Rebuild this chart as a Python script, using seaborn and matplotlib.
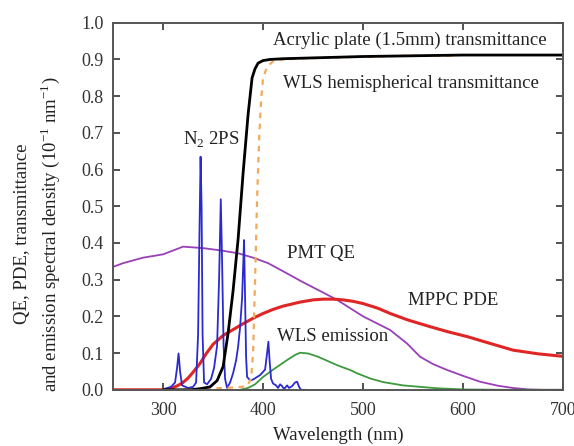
import matplotlib
matplotlib.use("Agg")
import matplotlib.pyplot as plt
import seaborn as sns

# ---- data ----
acrylic_wl = [300, 327, 337, 347, 354, 360, 365, 370, 375, 380, 385, 389, 392, 395, 400, 407, 420, 500, 600, 700]
acrylic_t = [0.0, 0.0, 0.003, 0.008, 0.025, 0.063, 0.154, 0.27, 0.41, 0.59, 0.75, 0.85, 0.875, 0.89, 0.897, 0.90, 0.902, 0.908, 0.912, 0.912]

wls_t_wl = [320, 340, 360, 375, 384, 388, 390, 392, 394, 396, 398, 400, 404, 410, 420, 440, 480, 540, 590]
wls_t = [0.0, 0.003, 0.005, 0.007, 0.01, 0.03, 0.10, 0.30, 0.52, 0.68, 0.79, 0.85, 0.88, 0.895, 0.90, 0.903, 0.906, 0.91, 0.91]

pmt_wl = [250, 260, 280, 300, 320, 340, 357, 375, 390, 405, 424, 440, 460, 474, 500, 527, 544, 557, 570, 584, 600, 617, 635, 650, 665, 680, 700]
pmt_qe = [0.335, 0.345, 0.36, 0.369, 0.39, 0.386, 0.38, 0.372, 0.36, 0.345, 0.317, 0.293, 0.265, 0.245, 0.2, 0.163, 0.126, 0.09, 0.07, 0.054, 0.038, 0.022, 0.011, 0.005, 0.001, 0.0, 0.0]

mppc_wl = [250, 300, 305, 310, 315, 320, 325, 330, 337, 343, 350, 360, 370, 380, 390, 400, 410, 420, 437, 450, 460, 470, 480, 490, 500, 515, 527, 545, 567, 585, 604, 625, 650, 675, 697, 700]
mppc_pde = [0.0, 0.0, 0.002, 0.006, 0.012, 0.02, 0.032, 0.048, 0.072, 0.098, 0.124, 0.148, 0.164, 0.18, 0.195, 0.208, 0.219, 0.228, 0.239, 0.245, 0.247, 0.247, 0.245, 0.241, 0.235, 0.222, 0.208, 0.19, 0.172, 0.158, 0.145, 0.128, 0.108, 0.098, 0.092, 0.091]

wlsem_wl = [377, 385, 392, 400, 410, 424, 432, 437, 445, 455, 465, 475, 487, 494, 507, 520, 540, 557, 575, 600, 640, 700]
wlsem_val = [0.0, 0.005, 0.015, 0.035, 0.055, 0.081, 0.095, 0.101, 0.099, 0.09, 0.078, 0.066, 0.054, 0.045, 0.031, 0.021, 0.012, 0.008, 0.004, 0.001, 0.0, 0.0]

n2_wl = [302, 308, 312, 314, 315.5, 317, 319, 325, 330, 333, 335, 336.5, 337.5, 338.5, 339.5, 341, 344, 348, 351, 354, 356, 357.7, 359, 360.5, 362, 364,
         367, 370, 373, 375, 377, 379, 380, 381, 382, 383, 384, 387, 390, 394, 397, 400, 402, 404, 405.3, 406.5, 408, 410, 413, 415, 417, 419, 421, 424,
         426, 429, 432, 434, 436, 438, 442]
n2_val = [0.003, 0.008, 0.02, 0.06, 0.099, 0.05, 0.012, 0.005, 0.008, 0.02, 0.15, 0.45, 0.635, 0.5, 0.15, 0.02, 0.015, 0.03, 0.06, 0.12, 0.3, 0.519, 0.35, 0.12, 0.03, 0.005,
          0.02, 0.045, 0.08, 0.117, 0.17, 0.25, 0.33, 0.408, 0.25, 0.09, 0.035, 0.026, 0.028, 0.035, 0.04, 0.049, 0.055, 0.1, 0.131, 0.08, 0.03, 0.017, 0.012, 0.005, 0.015, 0.01, 0.002, 0.012,
          0.005, 0.01, 0.02, 0.022, 0.008, 0.0, 0.0]

x_ticks = [300, 400, 500, 600, 700]
y_ticks = [0.0, 0.1, 0.2, 0.3, 0.4, 0.5, 0.6, 0.7, 0.8, 0.9, 1.0]

# ---- plotting ----
sns.set_style("ticks")
plt.rcParams['font.family'] = ['Liberation Serif', 'DejaVu Serif']
plt.rcParams['mathtext.fontset'] = 'custom'
plt.rcParams['mathtext.rm'] = 'Liberation Serif'

fig = plt.figure(figsize=(5.74, 4.46), dpi=100)
ax = fig.add_axes([0.197, 0.126, 0.784, 0.823])

sns.lineplot(x=pmt_wl, y=pmt_qe, ax=ax, color='#9a3fb8', lw=1.3, sort=False, estimator=None)
sns.lineplot(x=wlsem_wl, y=wlsem_val, ax=ax, color='#3d9a3d', lw=1.3, sort=False, estimator=None)
sns.lineplot(x=mppc_wl, y=mppc_pde, ax=ax, color='#e02525', lw=2.2, sort=False, estimator=None)
sns.lineplot(x=n2_wl, y=n2_val, ax=ax, color='#2a2ad0', lw=1.3, sort=False, estimator=None)
sns.lineplot(x=wls_t_wl, y=wls_t, ax=ax, color='#f2aa5a', lw=1.6, sort=False, estimator=None, linestyle=(0, (2.5, 2.5)))
sns.lineplot(x=acrylic_wl, y=acrylic_t, ax=ax, color='black', lw=2.0, sort=False, estimator=None)

ax.set_xlim(250, 700)
ax.set_ylim(0, 1.0)
ax.set_xticks(x_ticks)
ax.set_yticks(y_ticks)
ax.set_yticklabels([f"{v:.1f}" for v in y_ticks])
ax.tick_params(direction='in', top=True, right=True, length=5, width=1.2, labelsize=13, colors='#333333')
ax.tick_params(axis='y', pad=7)
ax.tick_params(axis='x', pad=9)
for s in ax.spines.values():
    s.set_color('#555555')
    s.set_linewidth(1.4)

ax.set_xlabel("Wavelength (nm)", fontsize=13.5, color='#222222', labelpad=5)
ax.set_ylabel("QE, PDE, transmittance\nand emission spectral density (10$^{-1}$ nm$^{-1}$)",
              fontsize=13.5, color='#222222', linespacing=1.4)
ax.yaxis.set_label_coords(-0.114, 0.424)

tk = dict(fontsize=13.5, color='#222222', va='center', ha='left')
ax.text(410, 0.953, "Acrylic plate (1.5mm) transmittance", **tk)
ax.text(420, 0.835, "WLS hemispherical transmittance", **tk)
ax.text(320, 0.68, "N$_2$ 2PS", **tk)
ax.text(424, 0.372, "PMT QE", **tk)
ax.text(545, 0.244, "MPPC PDE", **tk)
ax.text(414, 0.145, "WLS emission", **tk)

fig.savefig("out.png", dpi=100)
